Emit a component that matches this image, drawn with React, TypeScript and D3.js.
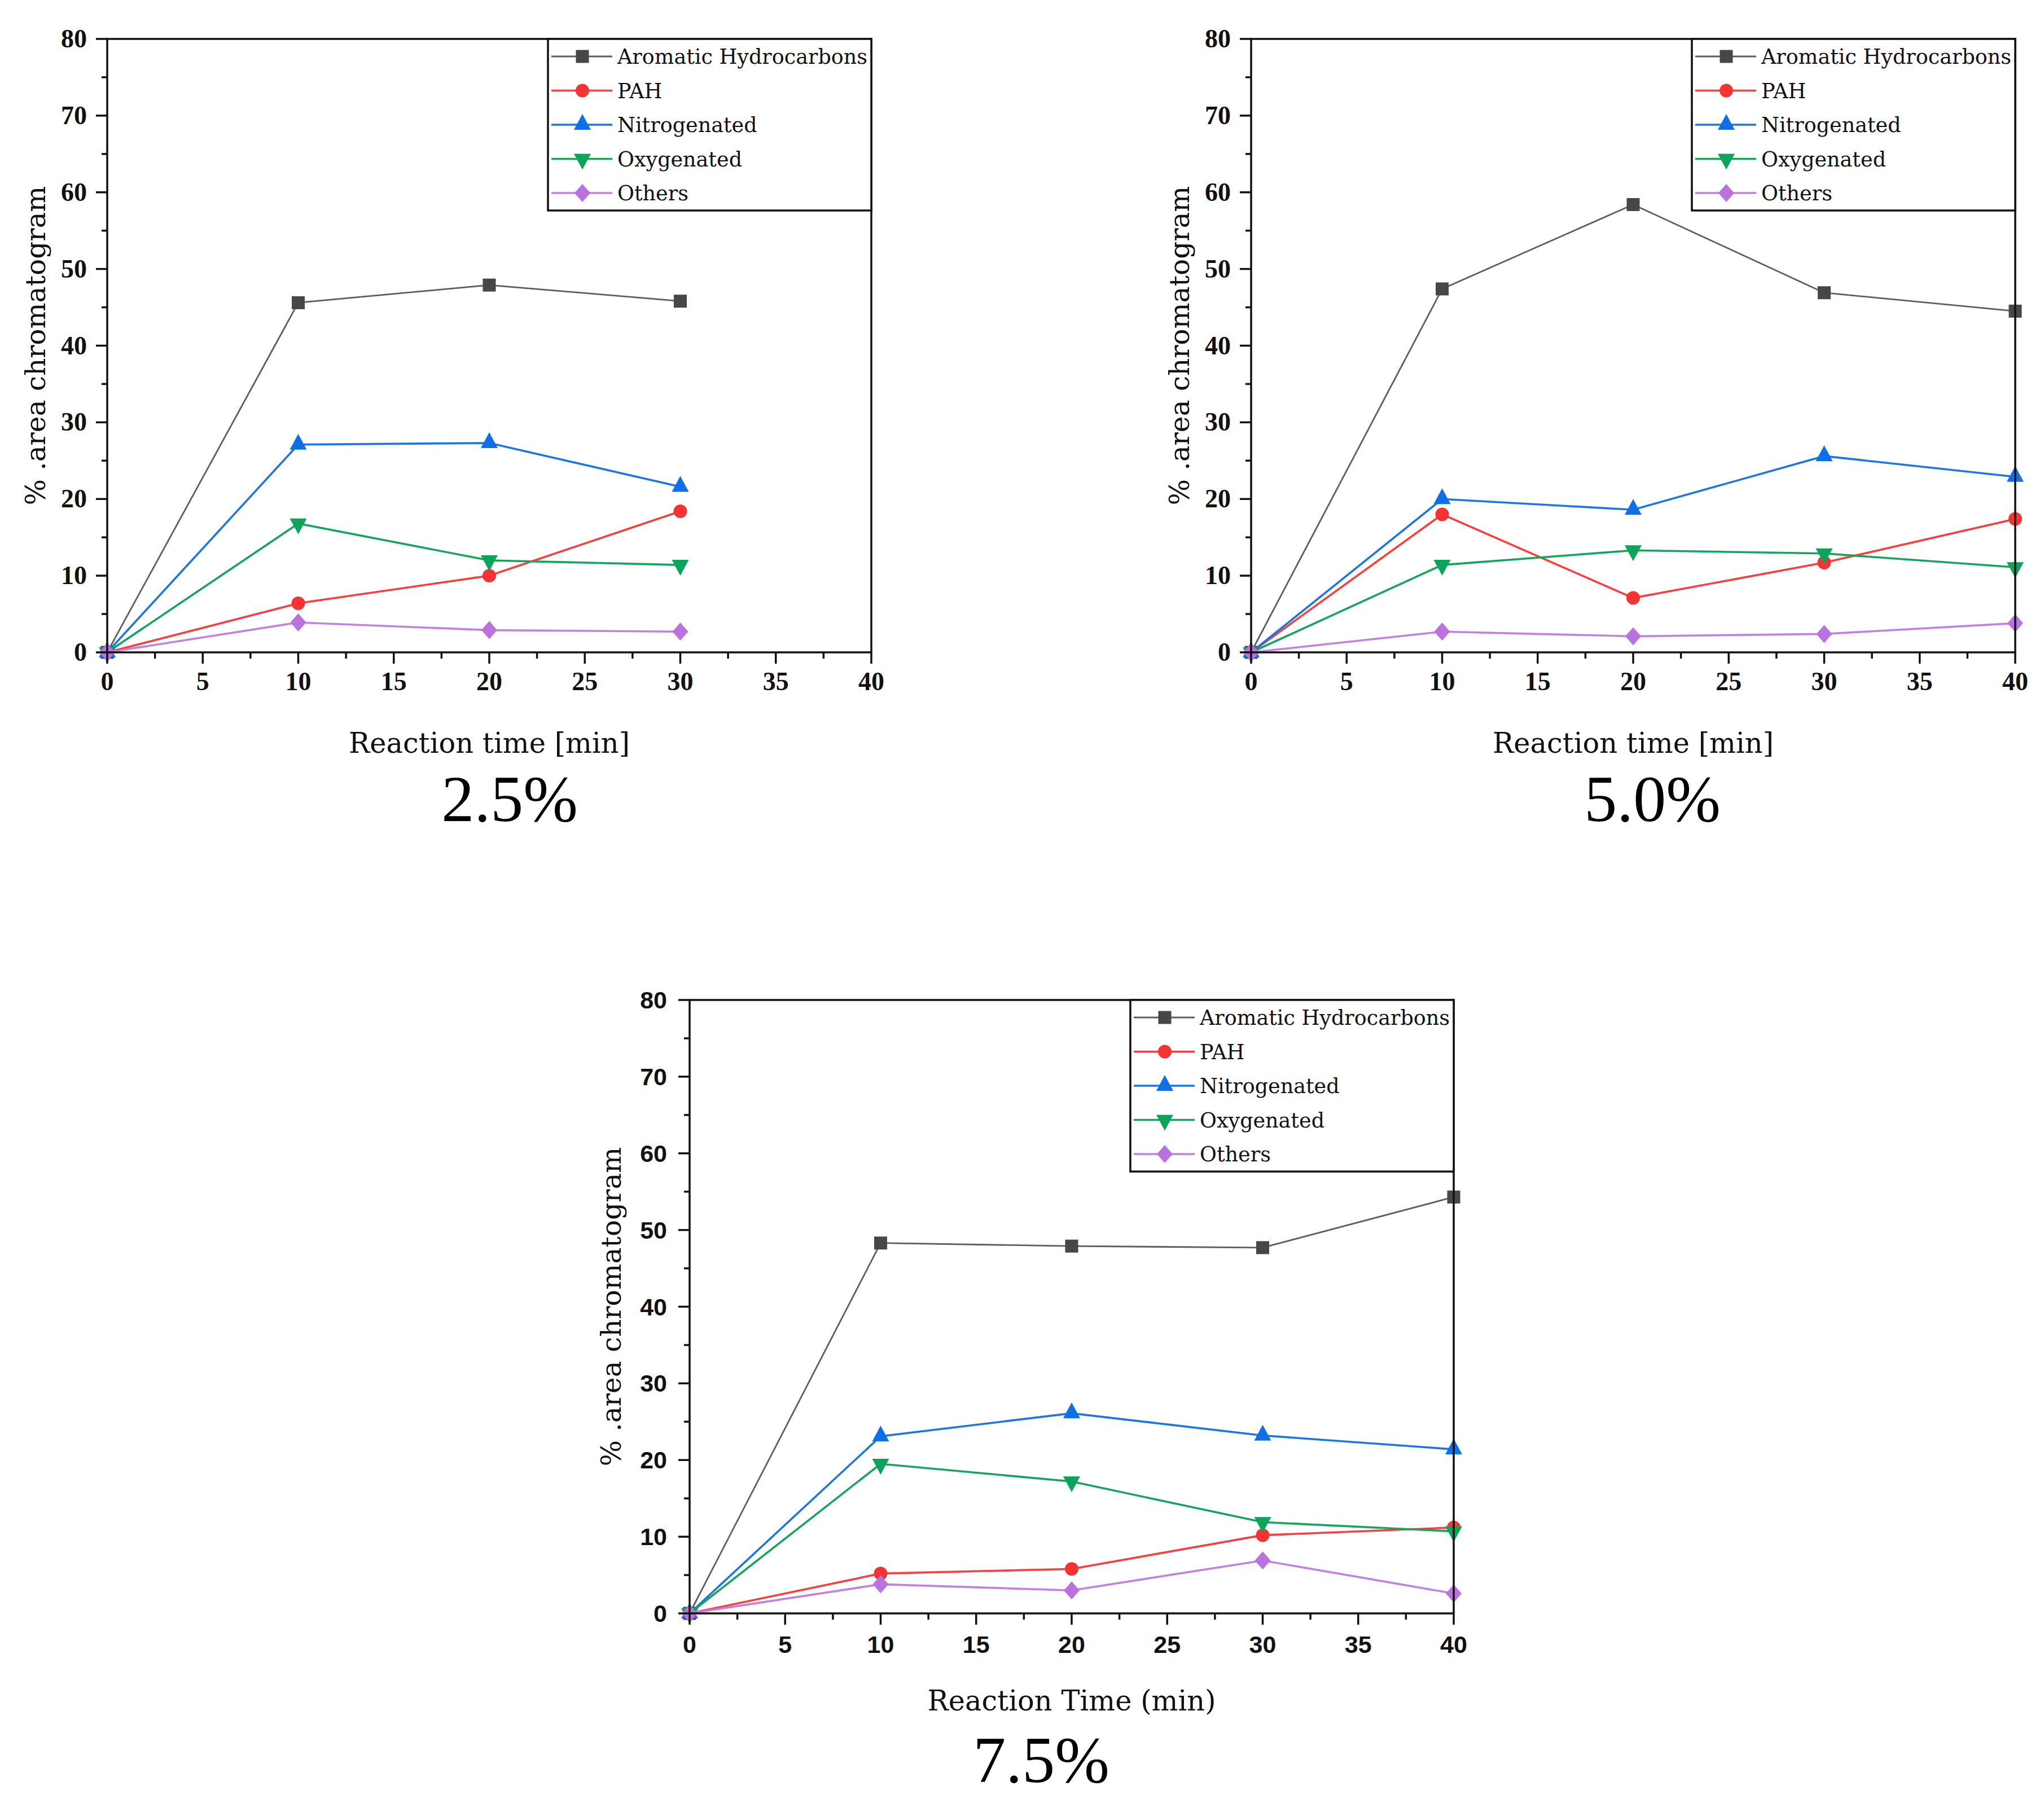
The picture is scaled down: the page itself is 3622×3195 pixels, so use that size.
import * as d3 from "d3";

// series shared by the three panels
const seriesNames = ["Aromatic Hydrocarbons", "PAH", "Nitrogenated", "Oxygenated", "Others"];
const lineColors = ["#5e5e5e", "#ff3b3b", "#1a76e8", "#12a65d", "#c47fe4"];
const markerColors = ["#474747", "#f53333", "#0f6fe6", "#0ca35a", "#bb72de"];
const markerShapes = ["square", "circle", "triangle", "down", "diamond"];

const xTickValues = [0, 5, 10, 15, 20, 25, 30, 35, 40];
const xMinorValues = [2.5, 7.5, 12.5, 17.5, 22.5, 27.5, 32.5, 37.5];
const yTickValues = [0, 10, 20, 30, 40, 50, 60, 70, 80];
const yMinorValues = [5, 15, 25, 35, 45, 55, 65, 75];

// 2.5 %
const time25 = [0, 10, 20, 30];
const aromatic25 = [0, 45.6, 47.9, 45.8];
const pah25 = [0, 6.4, 10.0, 18.4];
const nitrogenated25 = [0, 27.1, 27.3, 21.6];
const oxygenated25 = [0, 16.8, 12.0, 11.4];
const others25 = [0, 3.9, 2.9, 2.7];

// 5.0 %
const time50 = [0, 10, 20, 30, 40];
const aromatic50 = [0, 47.4, 58.4, 46.9, 44.5];
const pah50 = [0, 18.0, 7.1, 11.7, 17.4];
const nitrogenated50 = [0, 20.0, 18.6, 25.6, 22.9];
const oxygenated50 = [0, 11.4, 13.3, 12.9, 11.1];
const others50 = [0, 2.7, 2.1, 2.4, 3.8];

// 7.5 %
const time75 = [0, 10, 20, 30, 40];
const aromatic75 = [0, 48.3, 47.9, 47.7, 54.3];
const pah75 = [0, 5.2, 5.8, 10.2, 11.2];
const nitrogenated75 = [0, 23.1, 26.1, 23.2, 21.4];
const oxygenated75 = [0, 19.5, 17.2, 11.9, 10.7];
const others75 = [0, 3.8, 3.0, 6.9, 2.6];

function markerPath(shape, cx, cy) {
  if (shape === "square") {
    const h = 11.5;
    return `M${cx - h},${cy - h}H${cx + h}V${cy + h}H${cx - h}Z`;
  }
  if (shape === "circle") {
    const r = 12;
    return `M${cx - r},${cy}A${r},${r} 0 1,0 ${cx + r},${cy}A${r},${r} 0 1,0 ${cx - r},${cy}Z`;
  }
  if (shape === "triangle") {
    return `M${cx},${cy - 19}L${cx + 15},${cy + 9}L${cx - 15},${cy + 9}Z`;
  }
  if (shape === "down") {
    return `M${cx},${cy + 19}L${cx + 15},${cy - 9}L${cx - 15},${cy - 9}Z`;
  }
  return `M${cx},${cy - 16}L${cx + 14},${cy}L${cx},${cy + 16}L${cx - 14},${cy}Z`;
}

function Panel({ left, top, times, values, tickFont, xTitle, pct, pctX, yTitleX, xTitleDy }) {
  const width = 1354;
  const height = 1087;
  const x = d3.scaleLinear([0, 40], [left, left + width]);
  const y = d3.scaleLinear([0, 80], [top + height, top]);
  const bottom = top + height;
  const right = left + width;
  const line = d3.line((d, i) => x(times[i]), (d) => y(d));
  const legendLeft = right - 573;
  const serifTicks = tickFont === "serif";
  const tickSize = serifTicks ? 46 : 43;
  const tickFamily = serifTicks ? "Liberation Serif" : "Liberation Sans";

  return (
    <g>
      {/* series */}
      {values.map((vals, s) => (
        <g key={s}>
          <path d={line(vals)} fill="none" stroke={lineColors[s]} strokeWidth={s === 0 ? 2.8 : 3.6} />
          {vals.map((v, i) => (
            <path key={i} d={markerPath(markerShapes[s], x(times[i]), y(v))} fill={markerColors[s]} />
          ))}
        </g>
      ))}

      {/* frame */}
      <rect x={left} y={top} width={width} height={height} fill="none" stroke="#111" strokeWidth={3.5} />

      {/* x ticks */}
      {xTickValues.map((t) => (
        <g key={t}>
          <line x1={x(t)} x2={x(t)} y1={bottom} y2={bottom + 20} stroke="#111" strokeWidth={3.5} />
          <text
            x={x(t)}
            y={bottom + (serifTicks ? 67 : 70)}
            textAnchor="middle"
            fontSize={tickSize}
            fontWeight="bold"
            fontFamily={tickFamily}
            fill="#111"
          >
            {t}
          </text>
        </g>
      ))}
      {xMinorValues.map((t) => (
        <line key={t} x1={x(t)} x2={x(t)} y1={bottom} y2={bottom + 11} stroke="#111" strokeWidth={3.5} />
      ))}

      {/* y ticks */}
      {yTickValues.map((t) => (
        <g key={t}>
          <line x1={left - 20} x2={left} y1={y(t)} y2={y(t)} stroke="#111" strokeWidth={3.5} />
          <text
            x={left - (serifTicks ? 36 : 40)}
            y={y(t) + 15}
            textAnchor="end"
            fontSize={tickSize}
            fontWeight="bold"
            fontFamily={tickFamily}
            fill="#111"
          >
            {t}
          </text>
        </g>
      ))}
      {yMinorValues.map((t) => (
        <line key={t} x1={left - 10} x2={left} y1={y(t)} y2={y(t)} stroke="#111" strokeWidth={3.5} />
      ))}

      {/* legend */}
      <rect x={legendLeft} y={top} width={573} height={304} fill="#fff" stroke="#111" strokeWidth={3.5} />
      {seriesNames.map((name, s) => {
        const ry = top + 31 + s * 60.5;
        return (
          <g key={name}>
            <line x1={legendLeft + 6} x2={legendLeft + 114} y1={ry} y2={ry} stroke={lineColors[s]} strokeWidth={s === 0 ? 2.8 : 3.6} />
            <path d={markerPath(markerShapes[s], legendLeft + 61, ry)} fill={markerColors[s]} />
            <text x={legendLeft + 123} y={ry + 13} fontSize={36.5} fontFamily="DejaVu Serif" fill="#111">
              {name}
            </text>
          </g>
        );
      })}

      {/* titles */}
      <text
        transform={`translate(${yTitleX},${top + height / 2}) rotate(-90)`}
        textAnchor="middle"
        fontSize={48.5}
        fontFamily="DejaVu Serif"
        fill="#111"
      >
        % .area chromatogram
      </text>
      <text
        x={left + width / 2}
        y={bottom + xTitleDy}
        textAnchor="middle"
        fontSize={49.5}
        fontFamily="DejaVu Serif"
        fill="#111"
      >
        {xTitle}
      </text>
      <text x={pctX} y={bottom + 299} textAnchor="middle" fontSize={116} fontFamily="Liberation Serif" fill="#000">
        {pct}
      </text>
    </g>
  );
}

export default function App() {
  return (
    <svg
      width={3622}
      height={3195}
      style={{ position: "absolute", left: 0, top: 0, background: "#fff" }}
    >
      <rect width={3622} height={3195} fill="#fff" />
      <Panel
        left={190}
        top={69}
        times={time25}
        values={[aromatic25, pah25, nitrogenated25, oxygenated25, others25]}
        tickFont="serif"
        xTitle="Reaction time [min]"
        pct="2.5%"
        pctX={903}
        yTitleX={80}
        xTitleDy={178}
      />
      <Panel
        left={2217}
        top={69}
        times={time50}
        values={[aromatic50, pah50, nitrogenated50, oxygenated50, others50]}
        tickFont="serif"
        xTitle="Reaction time [min]"
        pct="5.0%"
        pctX={2928}
        yTitleX={2107}
        xTitleDy={178}
      />
      <Panel
        left={1222}
        top={1772}
        times={time75}
        values={[aromatic75, pah75, nitrogenated75, oxygenated75, others75]}
        tickFont="sans"
        xTitle="Reaction Time (min)"
        pct="7.5%"
        pctX={1845}
        yTitleX={1100}
        xTitleDy={172}
      />
    </svg>
  );
}
